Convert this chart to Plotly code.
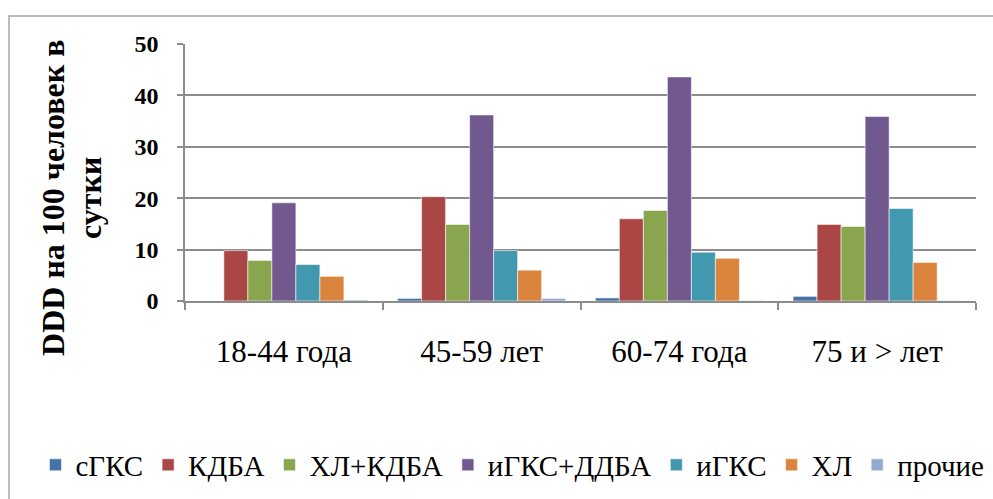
import plotly.graph_objects as go

# Age groups on the category axis
age_groups = ["18-44 года", "45-59 лет", "60-74 года", "75 и > лет"]

# DDD per 100 people per day, one list per drug class
sgks = [0.0, 0.5, 0.6, 0.9]
kdba = [9.8, 20.3, 16.0, 14.9]
hl_kdba = [7.9, 14.9, 17.6, 14.5]
igks_ddba = [19.1, 36.2, 43.6, 35.9]
igks = [7.1, 9.8, 9.5, 18.0]
hl = [4.8, 6.0, 8.3, 7.5]
prochie = [0.2, 0.5, 0.1, 0.1]

series_names = ["сГКС", "КДБА", "ХЛ+КДБА", "иГКС+ДДБА", "иГКС", "ХЛ", "прочие"]
series_values = [sgks, kdba, hl_kdba, igks_ddba, igks, hl, prochie]
series_colors = ["#4572A7", "#AA4643", "#89A54E", "#71588F", "#4198AF", "#DB843D", "#93A9CF"]

SERIF = "Liberation Serif, Times New Roman, serif"

fig = go.Figure()
for name, vals, col in zip(series_names, series_values, series_colors):
    fig.add_trace(go.Bar(
        x=age_groups, y=vals, name=name,
        marker=dict(color=col, line=dict(color="rgba(255,255,255,0.7)", width=0.8)),
    ))

title_font = dict(family=SERIF, size=32, color="black", weight="bold")

fig.update_layout(
    width=993, height=499,
    margin=dict(l=185, r=17, t=44, b=198, autoexpand=False),
    paper_bgcolor="white", plot_bgcolor="white",
    barmode="group", bargap=0.15, bargroupgap=0,
    font=dict(family=SERIF, color="black"),
    showlegend=True,
    legend=dict(
        orientation="h", x=-0.189, xanchor="left", y=-0.638, yanchor="middle",
        font=dict(family=SERIF, size=29, color="black"),
        itemwidth=30, tracegroupgap=0, traceorder="normal",
    ),
    xaxis=dict(
        showline=True, linecolor="#8c8c8c", linewidth=1.5,
        ticks="outside", ticklen=7, tickcolor="#8c8c8c", tickwidth=1.5,
        tickson="boundaries", showgrid=False,
        tickfont=dict(family=SERIF, size=31, color="black"),
        ticklabelstandoff=22,
    ),
    yaxis=dict(
        range=[0, 50], dtick=10, tick0=0,
        showline=True, linecolor="#8c8c8c", linewidth=1.5,
        ticks="outside", ticklen=6, tickcolor="#8c8c8c", tickwidth=1.5,
        showgrid=True, gridcolor="#8c8c8c", gridwidth=1.5,
        zeroline=False,
        tickfont=dict(family=SERIF, size=24, color="black", weight="bold"),
        ticklabelstandoff=14,
    ),
    annotations=[
        dict(text="DDD на 100 человек в", xref="paper", yref="paper",
             x=-0.1669, y=0.401, xanchor="center", yanchor="middle",
             textangle=-90, showarrow=False, font=title_font),
        dict(text="сутки", xref="paper", yref="paper",
             x=-0.1201, y=0.401, xanchor="center", yanchor="middle",
             textangle=-90, showarrow=False, font=title_font),
    ],
    shapes=[dict(
        type="rect", xref="paper", yref="paper",
        x0=-0.2225, x1=1.2, y0=-1.5, y1=1.109,
        line=dict(color="#a6a6a6", width=1.5), fillcolor="rgba(0,0,0,0)",
        layer="below",
    )],
)

fig.write_html("out.html")
